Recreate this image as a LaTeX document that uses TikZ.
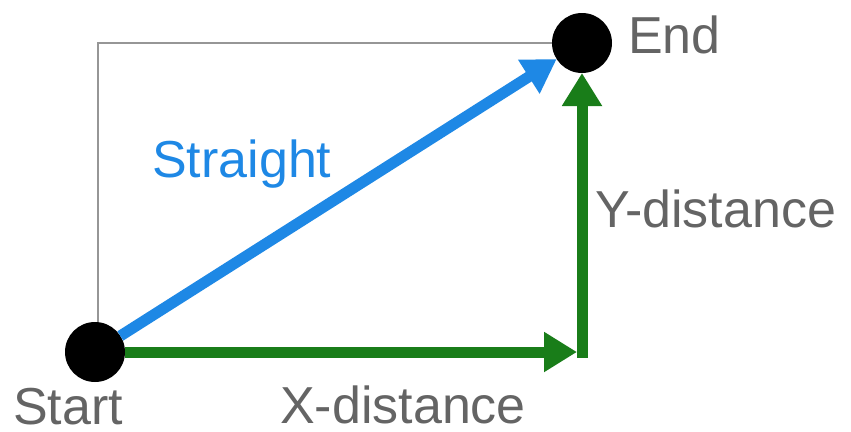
\documentclass[tikz,border=0pt]{standalone}
\usepackage{fontspec}
\setmainfont{Liberation Sans}
\usetikzlibrary{arrows.meta}
\definecolor{straightblue}{RGB}{30,136,229}
\definecolor{distgreen}{RGB}{25,125,25}
\definecolor{labelgray}{RGB}{100,100,100}
\definecolor{framegray}{RGB}{150,150,150}

\begin{document}
\begin{tikzpicture}
	[
	x=1pt,y=-1pt,
	dot/.style={circle,fill=black,minimum size=60pt,inner sep=0pt,outer sep=0pt},
	lbl/.style={anchor=base west,inner sep=0pt,text=labelgray,font=\fontsize{52}{62}\selectfont},
	arrow/.style={-{Triangle[length=33pt,width=38pt]},line width=11pt},
	]
	\useasboundingbox (0,0) rectangle (851,431);
	\node[dot] (start) at (95,352) {};
	\node[dot] (end) at (582,43) {};
	\coordinate (corner) at (582,357.5);
	% frame
	\draw[framegray,line width=1.5pt] ([xshift=3pt]start.north) |- (end.west);
	% distances
	\draw[arrow,distgreen,shorten >=5pt] (start) -- (start -| corner);
	\draw[arrow,distgreen] (corner) -- (end);
	\draw[arrow,straightblue] (start) -- (end);
	% texts
	\node[lbl] (startlbl) at (13,424) {Start};
	\node[lbl] (xlbl) at (280,423) {X-distance};
	\node[lbl] (ylbl) at (595,227) {Y-distance};
	\node[lbl,text=straightblue] (straightlbl) at (152,177) {Straight};
	\node[lbl] (endlbl) at (628,53) {End};
\end{tikzpicture}
\end{document}
